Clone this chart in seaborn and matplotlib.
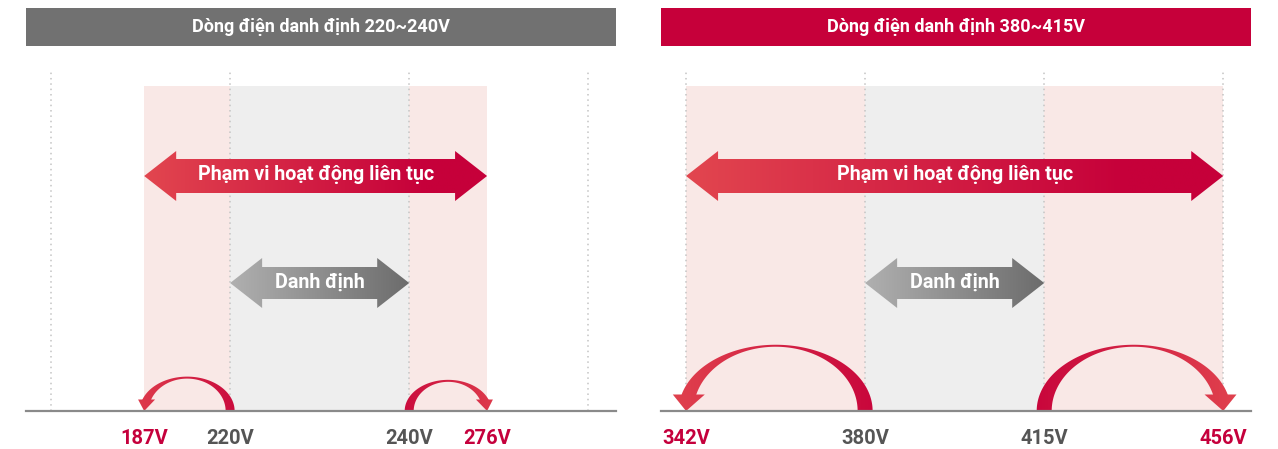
import numpy as np
import matplotlib
matplotlib.use("Agg")
import matplotlib.pyplot as plt
import seaborn as sns
from matplotlib.patches import Polygon, Rectangle
from matplotlib.colors import LinearSegmentedColormap

# ---------------- data ----------------
panel_titles = ["Dòng điện danh định 220~240V", "Dòng điện danh định 380~415V"]
left_voltages = [187, 220, 240, 276]     # min, nominal low, nominal high, max
right_voltages = [342, 380, 415, 456]
range_label = "Phạm vi hoạt động liên tục"
nominal_label = "Danh định"

# ---------------- layout / style ----------------
W, H = 1278, 449
sns.set_theme(style="white")
plt.rcParams['font.family'] = ['Roboto', 'DejaVu Sans']

RED = "#c6003a"
RED_LIGHT = "#e2464f"
GRAY_HDR = "#717171"
LBL_RED = "#c5003c"
LBL_GRAY = "#555555"
PINK = "#f9e8e6"
BAND_GRAY = "#eeeeee"

XLIM = (-0.14, 3.155)
PANEL_W = 590
PX = PANEL_W / (XLIM[1] - XLIM[0])     # pixels per slot
YTOP = 365                              # axes height in px (y = px above baseline)

panels = [
    dict(volts=left_voltages, anchors=[0.52, 1.0, 2.0, 2.435], left=26,
         hdr=GRAY_HDR, arc_w=9, arc_ry=0.80, head_w=17, head_h=11),
    dict(volts=right_voltages, anchors=[0.0, 1.0, 2.0, 3.0], left=661,
         hdr=RED, arc_w=15, arc_ry=0.74, head_w=32, head_h=16),
]

fig = plt.figure(figsize=(W / 100, H / 100), dpi=100)


def grad_fill(ax, verts_list, x0, x1, y0, y1, colors, stops=None, z=3):
    if stops is None:
        stops = np.linspace(0, 1, len(colors))
    cmap = LinearSegmentedColormap.from_list("g", list(zip(stops, colors)))
    g = np.linspace(0, 1, 256).reshape(1, -1)
    for verts in verts_list:
        patch = Polygon(verts, closed=True, fc="none", ec="none", transform=ax.transData)
        ax.add_patch(patch)
        im = ax.imshow(g, extent=[x0, x1, y0, y1], cmap=cmap, aspect="auto",
                       origin="lower", zorder=z, interpolation="bilinear")
        im.set_clip_path(patch)


def dbl_arrow(x0, x1, yc, sh, hh, hl_px):
    hl = hl_px / PX
    return [(x0, yc), (x0 + hl, yc + hh), (x0 + hl, yc + sh), (x1 - hl, yc + sh),
            (x1 - hl, yc + hh), (x1, yc), (x1 - hl, yc - hh), (x1 - hl, yc - sh),
            (x0 + hl, yc - sh), (x0 + hl, yc - hh)]


def curved_arrow(ax, n_slot, e_slot, w, ry_ratio, head_w, head_h):
    npx, epx = n_slot * PX, e_slot * PX
    cx = (npx + epx) / 2
    half = abs(npx - epx) / 2
    s = np.sign(npx - epx)
    rx_o, rx_i = half + w / 2, half - w / 2
    ry_o = ry_ratio * half
    ry_i = ry_o - 2
    th_o = np.pi - np.arcsin(head_h / ry_o)
    th_i = np.pi - np.arcsin(head_h / ry_i)
    t_o = np.linspace(0, th_o, 120)
    t_i = np.linspace(th_i, 0, 120)
    outer = np.column_stack([cx + s * rx_o * np.cos(t_o), ry_o * np.sin(t_o)])
    inner = np.column_stack([cx + s * rx_i * np.cos(t_i), ry_i * np.sin(t_i)])
    body = np.vstack([outer, inner])
    oe, ie = outer[-1], inner[0]
    bw = abs(oe[0] - ie[0])
    e = (head_w - bw) / 2
    head = np.array([[oe[0] - s * e, head_h + 0.5], [ie[0] + s * e, head_h + 0.5],
                     [epx, 0.0]])
    body = body.copy()
    body[:, 0] /= PX
    head[:, 0] /= PX
    lo = min(npx, epx) / PX - 30 / PX
    hi = max(npx, epx) / PX + 30 / PX
    cols = [RED_LIGHT, RED] if s > 0 else [RED, RED_LIGHT]
    grad_fill(ax, [body, head], lo, hi, 0, YTOP, cols, [0, 1], z=4)


for p_i, p in enumerate(panels):
    ax = fig.add_axes([p["left"] / W, (H - 411) / H, PANEL_W / W, YTOP / H])
    volts = p["volts"]
    anchors = p["anchors"]
    to_slot = lambda v, vv=volts, aa=anchors: float(np.interp(v, vv, aa))

    vmin, vlo, vhi, vmax = volts
    # bands
    ax.axvspan(to_slot(vmin), to_slot(vmax), ymin=0, ymax=325 / YTOP, color=PINK, lw=0, zorder=0)
    ax.axvspan(to_slot(vlo), to_slot(vhi), ymin=0, ymax=325 / YTOP, color=BAND_GRAY, lw=0, zorder=0.5)
    # dotted gridlines
    ax.vlines([0, 1, 2, 3], 0, 340, colors="#c4c4c4", linestyles=(0, (1, 2.5)), lw=1.1, zorder=1)

    # continuous operation arrow
    big = dbl_arrow(to_slot(vmin), to_slot(vmax), 235, 17, 25, 32)
    grad_fill(ax, [big], to_slot(vmin), to_slot(vmax), 0, YTOP,
              [RED_LIGHT, RED, RED], [0, 0.82, 1])
    ax.text((to_slot(vmin) + to_slot(vmax)) / 2, 236, range_label, color="white",
            fontsize=14.2, fontweight="bold", ha="center", va="center", zorder=6)

    # nominal arrow
    nom = dbl_arrow(to_slot(vlo), to_slot(vhi), 128, 16, 25, 32)
    grad_fill(ax, [nom], to_slot(vlo), to_slot(vhi), 0, YTOP,
              ["#b0b0b0", "#6c6c6c"], [0, 1])
    ax.text((to_slot(vlo) + to_slot(vhi)) / 2, 129, nominal_label, color="white",
            fontsize=14.2, fontweight="bold", ha="center", va="center", zorder=6)

    # curved arrows from nominal limits to extremes
    curved_arrow(ax, to_slot(vlo), to_slot(vmin), p["arc_w"], p["arc_ry"], p["head_w"], p["head_h"])
    curved_arrow(ax, to_slot(vhi), to_slot(vmax), p["arc_w"], p["arc_ry"], p["head_w"], p["head_h"])

    # header bar
    ax.add_patch(Rectangle((XLIM[0], YTOP), XLIM[1] - XLIM[0], 38, fc=p["hdr"], ec="none",
                           clip_on=False, zorder=5))
    ax.text(sum(XLIM) / 2, YTOP + 19, panel_titles[p_i], color="white", fontsize=13,
            fontweight="bold", ha="center", va="center", clip_on=False, zorder=6)

    # axis / ticks
    ax.set_xlim(*XLIM)
    ax.set_ylim(0, YTOP)
    ax.set_yticks([])
    ax.set_xticks([to_slot(v) for v in volts])
    ax.set_xticklabels([f"{v}V" for v in volts], fontsize=14.5, fontweight="bold")
    for lbl, c in zip(ax.get_xticklabels(), [LBL_RED, LBL_GRAY, LBL_GRAY, LBL_RED]):
        lbl.set_color(c)
    ax.tick_params(axis="x", length=0, pad=13)
    sns.despine(ax=ax, left=True)
    ax.spines["bottom"].set_color("#8a8a8a")
    ax.spines["bottom"].set_linewidth(1.6)
    ax.spines["bottom"].set_zorder(7)
    ax.set_facecolor("none")

fig.savefig("out.png", dpi=100, facecolor="white")
